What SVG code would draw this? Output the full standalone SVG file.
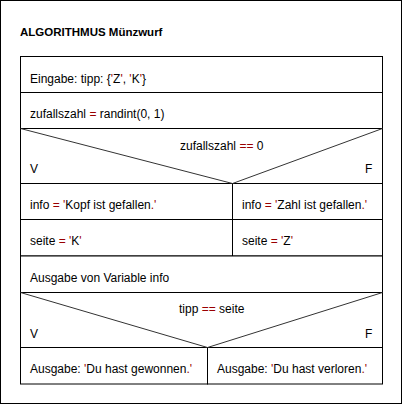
<svg xmlns="http://www.w3.org/2000/svg" width="403" height="405" viewBox="0 0 403 405">
<style>
text{font-family:"Liberation Sans",Arial,sans-serif;font-size:12px;fill:#000}
.t{font-weight:bold;font-size:11.5px}
.r{fill:#990000}
.b{fill:#fff;stroke:#000;stroke-width:1}
.d{stroke:#333;stroke-width:1;fill:none}
</style>
<rect x="0.5" y="0.5" width="401" height="403" fill="#fff" stroke="#000"/>
<text class="t" x="20" y="36">ALGORITHMUS Münzwurf</text>
<g id="input">
<rect class="b" x="20.5" y="56.5" width="362" height="36"/>
<text x="30" y="83">Eingabe: tipp: {<tspan class="r">'</tspan>Z<tspan class="r">'</tspan>, <tspan class="r">'</tspan>K<tspan class="r">'</tspan>}</text>
</g>
<g id="assign">
<rect class="b" x="20.5" y="92.5" width="362" height="36"/>
<text x="30" y="118">zufallszahl <tspan class="r">=</tspan> randint(0, 1)</text>
</g>
<g id="decision1">
<rect class="b" x="20.5" y="128.5" width="362" height="55"/>
<text x="180" y="150">zufallszahl <tspan class="r">==</tspan> 0</text>
<text x="30" y="173">V</text>
<text x="365" y="173">F</text>
</g>
<g id="info-k">
<rect class="b" x="20.5" y="183.5" width="212" height="36"/>
<text x="30" y="209">info <tspan class="r">=</tspan> <tspan class="r">'</tspan>Kopf ist gefallen<tspan class="r">.'</tspan></text>
</g>
<g id="info-z">
<rect class="b" x="232.5" y="183.5" width="150" height="36"/>
<text x="242" y="209">info <tspan class="r">=</tspan> <tspan class="r">'</tspan>Zahl ist gefallen<tspan class="r">.'</tspan></text>
</g>
<g id="seite-k">
<rect class="b" x="20.5" y="219.5" width="212" height="36.5"/>
<text x="30" y="245">seite <tspan class="r">=</tspan> <tspan class="r">'</tspan>K<tspan class="r">'</tspan></text>
</g>
<g id="seite-z">
<rect class="b" x="232.5" y="219.5" width="150" height="36.5"/>
<text x="242" y="245">seite <tspan class="r">=</tspan> <tspan class="r">'</tspan>Z<tspan class="r">'</tspan></text>
</g>
<g id="output-info">
<rect class="b" x="20.5" y="256" width="362" height="36.5"/>
<text x="30" y="282">Ausgabe von Variable info</text>
</g>
<g id="decision2">
<rect class="b" x="20.5" y="292.5" width="362" height="55"/>
<text x="179" y="313">tipp <tspan class="r">==</tspan> seite</text>
<text x="30" y="338">V</text>
<text x="365" y="338">F</text>
</g>
<g id="won">
<rect class="b" x="20.5" y="347.5" width="187" height="36.5"/>
<text x="30" y="373">Ausgabe: <tspan class="r">'</tspan>Du hast gewonnen<tspan class="r">.'</tspan></text>
</g>
<g id="lost">
<rect class="b" x="207.5" y="347.5" width="175" height="36.5"/>
<text x="217" y="373">Ausgabe: <tspan class="r">'</tspan>Du hast verloren<tspan class="r">.'</tspan></text>
</g>
<g id="connectors">
<path class="d" d="M20.5 128.5 L232.5 183.5 L382.5 128.5"/>
<path class="d" d="M20.5 292.5 L207.5 347.5 L382.5 292.5"/>
</g>
</svg>
